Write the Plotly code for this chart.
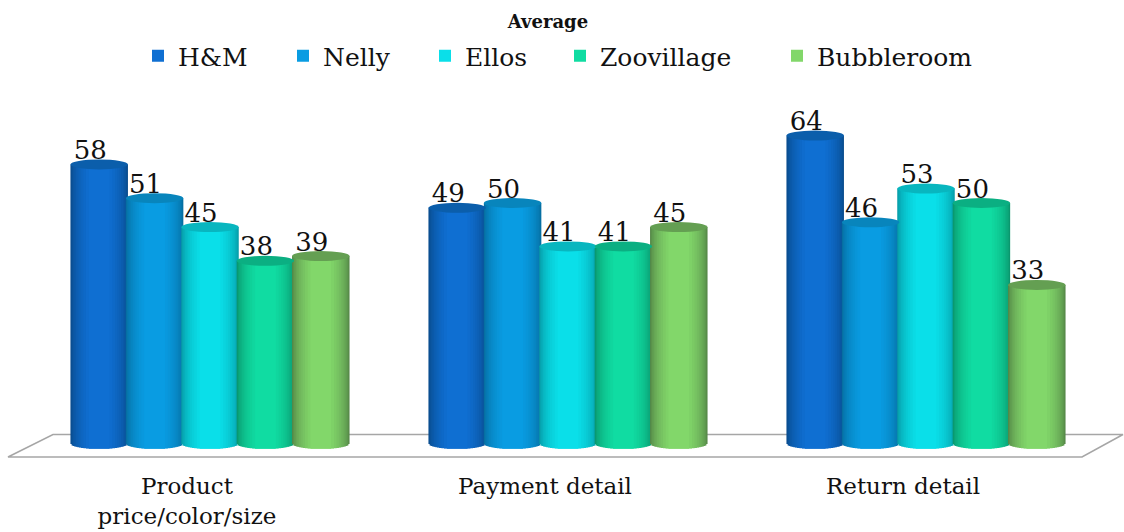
import math
import plotly.graph_objects as go

categories = ["Product<br>price/color/size", "Payment detail", "Return detail"]
hm = [58, 49, 64]
nelly = [51, 50, 46]
ellos = [45, 41, 53]
zoovillage = [38, 41, 50]
bubbleroom = [39, 45, 33]

series = [
    ("H&M", hm, "#0F6FD2", "#094C8E", "#0B5EAB"),
    ("Nelly", nelly, "#099CE2", "#066FA2", "#0885BC"),
    ("Ellos", ellos, "#0ADFE9", "#079DA8", "#08B6BF"),
    ("Zoovillage", zoovillage, "#10DCA2", "#0A976E", "#0BAF82"),
    ("Bubbleroom", bubbleroom, "#82D76A", "#558848", "#649F52"),
]
legend_left_px = [138, 283, 425, 560, 777]

FONT = "DejaVu Serif"
GROUP_PX = 358.0
STEP = 55.4 / GROUP_PX
BAR_W = 57.5 / GROUP_PX
PX_PER_V = 4.82
ELL_V = 5.0 / PX_PER_V
LEVELS = [1.0, .96, .92, .87, .82, .76, .70, .63, .55, .46, .36]


def mix(c1, c2, t):
    a = [int(c1[i:i + 2], 16) for i in (1, 3, 5)]
    b = [int(c2[i:i + 2], 16) for i in (1, 3, 5)]
    return "rgb(%d,%d,%d)" % tuple(round(p + (q - p) * t) for p, q in zip(a, b))


fig = go.Figure()
ellipses = []
legends = {}
for s, (name, vals, center, edge, top) in enumerate(series):
    lg = "legend" if s == 0 else f"legend{s + 1}"
    legends[lg] = dict(
        orientation="h", x=legend_left_px[s] / 1124, xanchor="left", y=1 - 56 / 532,
        yanchor="middle", yref="container", xref="container",
        font=dict(family=FONT, size=25, color="#111111"),
        bgcolor="rgba(0,0,0,0)", itemclick=False, itemdoubleclick=False,
    )
    xs = [g + (s - 2) * STEP for g in range(len(vals))]
    for k, u in enumerate(LEVELS):
        drop = ELL_V * math.sqrt(max(0, 1 - u * u))
        t = k / (len(LEVELS) - 1)
        fig.add_trace(go.Bar(
            x=xs, y=[v + drop for v in vals], base=[-drop] * len(vals),
            width=BAR_W * u, name=name, legend=lg,
            showlegend=k == len(LEVELS) - 1,
            marker=dict(color=mix(edge, center, t ** 0.8), line=dict(width=0)),
            hoverinfo="skip",
        ))
    for x, v in zip(xs, vals):
        ellipses.append(dict(
            type="circle", xref="x", yref="y", layer="above",
            x0=x - BAR_W / 2, x1=x + BAR_W / 2, y0=v - ELL_V, y1=v + ELL_V,
            fillcolor=top, line=dict(width=0),
        ))
    fig.add_trace(go.Scatter(
        x=[x - 9 / GROUP_PX for x in xs], y=[v + 12 / PX_PER_V for v in vals],
        mode="text", text=[str(v) for v in vals], showlegend=False,
        textposition="middle center", hoverinfo="skip",
        textfont=dict(family=FONT, size=26, color="#111111"),
    ))

W, H_PLOT = 1124.0, 470.0
pts = [(8, 457), (53, 434.5), (1123, 434.5), (1082, 457)]
path = "M" + " L".join(f"{x / W:.5f},{1 - y / H_PLOT:.5f}" for x, y in pts) + " Z"
floor = dict(type="path", xref="paper", yref="paper", layer="below", path=path,
             line=dict(color="#A6A6A6", width=1.5))

fig.update_layout(
    width=1124, height=532, autosize=False, barmode="overlay",
    margin=dict(l=0, r=0, t=0, b=62, autoexpand=False),
    paper_bgcolor="white", plot_bgcolor="white",
    shapes=[floor] + ellipses,
    title=dict(text="<b>Average</b>", x=548 / 1124, xanchor="center", xref="paper",
               y=1 - 22 / 532, yanchor="middle",
               font=dict(family=FONT, size=18, color="#111111")),
    xaxis=dict(range=[1 - 568 / GROUP_PX, 1 + (1124 - 568) / GROUP_PX],
               tickmode="array",
               tickvals=[g - 23 / GROUP_PX for g in range(len(categories))],
               ticktext=categories, ticks="", ticklen=0, showgrid=False, zeroline=False,
               showline=False, tickangle=0,
               tickfont=dict(family=FONT, size=23, color="#111111")),
    yaxis=dict(range=[-26 / PX_PER_V, 444 / PX_PER_V], visible=False),
    **legends,
)
fig.write_html("out.html", config=dict(displayModeBar=False),
               post_script="document.body.style.margin='0';")
